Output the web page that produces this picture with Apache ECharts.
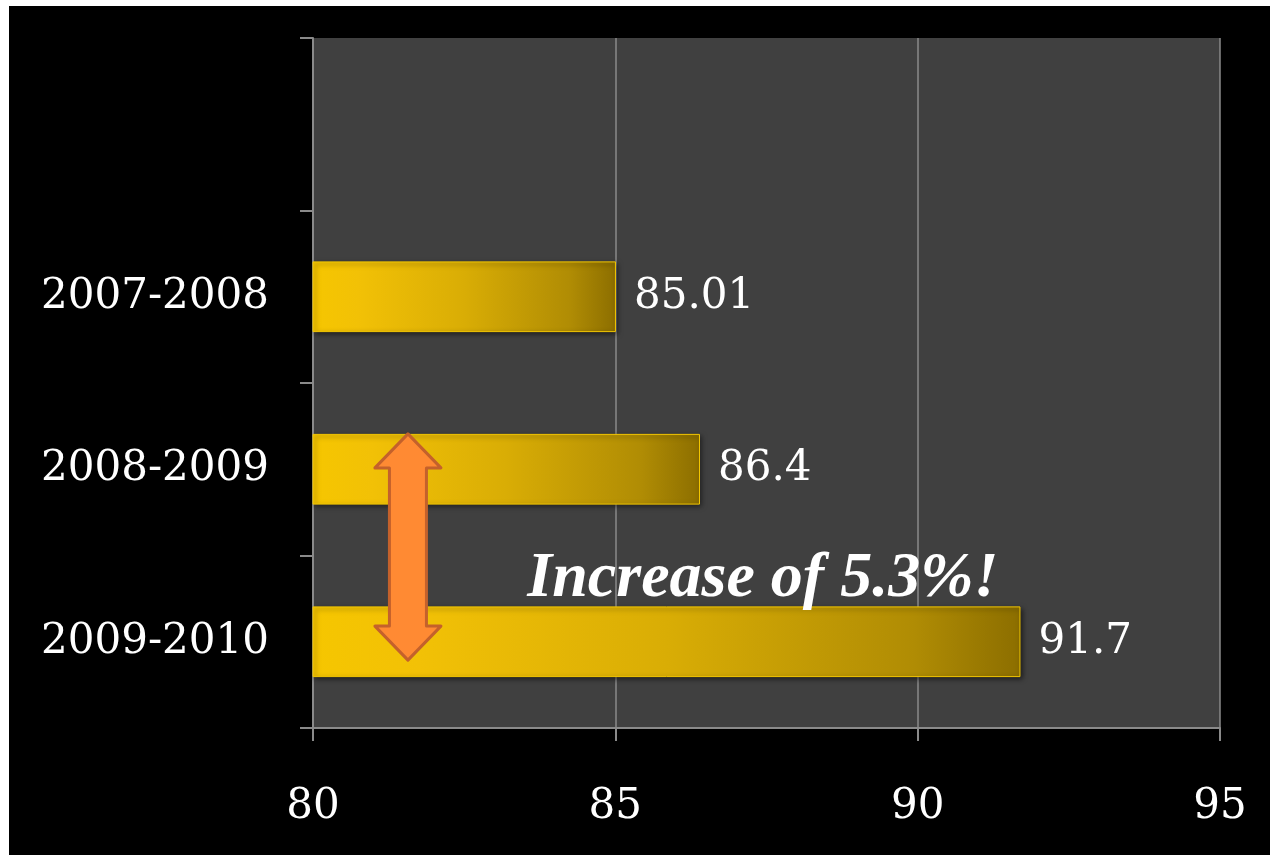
<!DOCTYPE html>
<html>
<head>
<meta charset="utf-8">
<script src="https://cdn.jsdelivr.net/npm/echarts@6/dist/echarts.min.js"></script>
<style>
  html, body { margin: 0; padding: 0; background: #ffffff; width: 1270px; height: 855px; overflow: hidden; }
  #chart { position: absolute; left: 9px; top: 6px; width: 1261px; height: 849px; background: #000000; }
</style>
</head>
<body>
<div id="chart"></div>
<script>
// Data (bottom to top on the category axis)
const categories = ['2009-2010', '2008-2009', '2007-2008', ''];
const values = [91.7, 86.4, 85.01, null];
const valueLabels = ['91.7', '86.4', '85.01', ''];
const xTicks = { min: 80, max: 95, interval: 5 };
const annotationText = 'Increase of 5.3%!';
const arrowValue = 81.57; // x position of the double arrow (axis units)
const annotationValue = 87.44; // horizontal centre of annotation text (axis units)

const chart = echarts.init(document.getElementById('chart'));
const serif = '"DejaVu Serif", "Liberation Serif", serif';
const serif2 = '"Liberation Serif", "DejaVu Serif", serif';
const axisGray = '#8a8a8a';

const barGradient = new echarts.graphic.LinearGradient(0, 0, 1, 0, [
  { offset: 0, color: '#f6c600' },
  { offset: 0.15, color: '#f2c106' },
  { offset: 0.5, color: '#d9ad05' },
  { offset: 0.85, color: '#b08c04' },
  { offset: 1, color: '#8c6e00' }
]);

chart.setOption({
  animation: false,
  backgroundColor: '#000000',
  grid: {
    left: 304, right: 50, top: 32, bottom: 127,
    show: true, backgroundColor: '#404040', borderWidth: 0
  },
  xAxis: {
    type: 'value',
    min: xTicks.min, max: xTicks.max, interval: xTicks.interval,
    axisLine: { show: true, lineStyle: { color: axisGray, width: 2 } },
    axisTick: { show: true, length: 13, lineStyle: { color: axisGray, width: 2 } },
    splitLine: { show: true, lineStyle: { color: axisGray, width: 1.5 } },
    axisLabel: { color: '#ffffff', fontFamily: serif, fontSize: 42, margin: 58 }
  },
  yAxis: {
    type: 'category',
    data: categories,
    axisLine: { show: true, lineStyle: { color: axisGray, width: 2 } },
    axisTick: { show: true, length: 13, alignWithLabel: false, lineStyle: { color: axisGray, width: 2 } },
    splitLine: { show: false },
    axisLabel: { color: '#ffffff', fontFamily: serif, fontSize: 42, margin: 44 }
  },
  series: [{
    type: 'bar',
    data: values,
    barWidth: '41%',
    itemStyle: {
      color: barGradient,
      borderColor: '#f5c800',
      borderWidth: 1,
      shadowColor: 'rgba(0,0,0,0.55)',
      shadowBlur: 5,
      shadowOffsetX: 2,
      shadowOffsetY: 2
    },
    label: {
      show: true,
      position: 'right',
      distance: 18,
      color: '#ffffff',
      fontFamily: serif,
      fontSize: 42,
      formatter: p => valueLabels[p.dataIndex]
    }
  }]
});

// Annotations positioned through the chart's own scales
function placeAnnotations() {
  const cx = chart.convertToPixel({ xAxisIndex: 0 }, arrowValue);
  const yMid = chart.convertToPixel({ yAxisIndex: 0 }, categories[1]);
  const yLow = chart.convertToPixel({ yAxisIndex: 0 }, categories[0]);
  const slot = yLow - yMid;
  const barHalf = slot * 0.41 / 2;
  const top = yMid - barHalf;
  const bottom = yLow + barHalf - 17;
  const headW = 33, shaftW = 18.5, headH = 34;
  const pts = [
    [cx, top],
    [cx + headW, top + headH],
    [cx + shaftW, top + headH],
    [cx + shaftW, bottom - headH],
    [cx + headW, bottom - headH],
    [cx, bottom],
    [cx - headW, bottom - headH],
    [cx - shaftW, bottom - headH],
    [cx - shaftW, top + headH],
    [cx - headW, top + headH]
  ];
  const tx = chart.convertToPixel({ xAxisIndex: 0 }, annotationValue);
  chart.setOption({
    graphic: [
      {
        type: 'polygon',
        z: 100,
        shape: { points: pts },
        style: { fill: '#ff8a33', stroke: '#c4612b', lineWidth: 3, lineJoin: 'round' }
      },
      {
        type: 'text',
        z: 100,
        x: tx,
        y: yLow - 30,
        style: {
          text: annotationText,
          fill: '#ffffff',
          font: 'italic bold 64px ' + serif2,
          align: 'center',
          verticalAlign: 'bottom'
        }
      }
    ]
  });
}
placeAnnotations();
</script>
</body>
</html>
